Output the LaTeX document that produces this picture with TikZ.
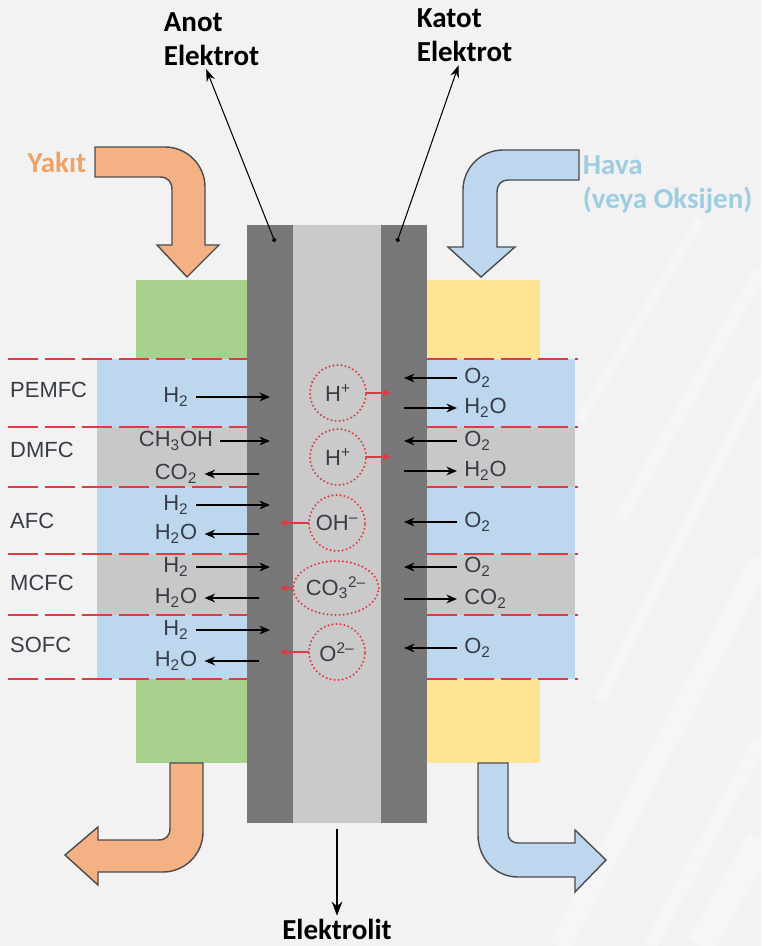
\documentclass[tikz,border=0pt]{standalone}
\usepackage{fontspec}
\setmainfont{Liberation Sans}
\newfontfamily\calfont{Carlito}
\usepackage{tikz}
\usetikzlibrary{arrows.meta,shapes.geometric}
\definecolor{bggray}{RGB}{242,242,242}
\definecolor{fuelgreen}{RGB}{166,208,140}
\definecolor{airyellow}{RGB}{255,228,150}
\definecolor{bandblue}{RGB}{189,215,238}
\definecolor{bandgray}{RGB}{200,200,200}
\definecolor{elecdark}{RGB}{120,120,120}
\definecolor{elytegray}{RGB}{202,202,202}
\definecolor{fuelorange}{RGB}{244,177,131}
\definecolor{yakitorange}{RGB}{240,162,100}
\definecolor{havablue}{RGB}{158,205,225}
\definecolor{ionred}{RGB}{222,58,68}
\definecolor{chemtext}{RGB}{55,60,70}
\newcommand{\chemsize}{\fontsize{12.5}{15}\selectfont}
\newcommand{\labelsize}{\calfont\bfseries\fontsize{16.5}{19}\selectfont}

\begin{document}
\begin{tikzpicture}[x=0.02cm,y=-0.02cm,>=Stealth,
    chem/.style={text=chemtext,font=\chemsize,inner sep=4pt},
    rowlabel/.style={text=chemtext,font=\chemsize,anchor=west},
    toplabel/.style={font=\labelsize,inner sep=2pt},
    flow/.style={line width=0.7pt,-{Stealth[length=6pt,width=5pt]}},
    ionflow/.style={ionred,line width=1pt,-{Stealth[length=4.5pt,width=4pt]}},
    ion/.style={circle,draw=ionred,line width=1.3pt,dash pattern=on 0pt off 2.3pt,line cap=round,
        minimum size=1.12cm,inner sep=0pt,outer sep=0pt,text=chemtext,font=\chemsize},
    electrode/.style={fill=elecdark,minimum width=0.92cm,minimum height=11.96cm,inner sep=0pt},
    electrolyte/.style={fill=elytegray,minimum width=1.76cm,minimum height=11.96cm,inner sep=0pt},
    rowsep/.style={ionred,line width=1.2pt,dash pattern=on 17pt off 4pt},
    pipe/.style={draw=black!70,line width=0.8pt},
    pin/.style={line width=0.6pt,{Circle[length=2.5pt]}-{Stealth[length=7pt,width=5pt]}}]

    % background
    \fill[bggray] (0,0) rectangle (761,946);
    \useasboundingbox (0,0) rectangle (761,946);
    \foreach \xa/\ya/\xb/\yb/\w in {560/946/761/560/12,650/946/761/740/8,700/946/761/840/16,
        600/700/761/380/6,620/520/761/270/7,580/420/700/220/5}
        \draw[white,opacity=.35,line width=\w pt] (\xa,\ya) -- (\xb,\yb);

    % gas boxes
    \fill[fuelgreen] (136,280) rectangle (247,763);
    \fill[airyellow] (427,280) rectangle (540,763);

    % fuel cell types
    \foreach \ya/\yb/\c in {359/427/bandblue,427/487/bandgray,487/554/bandblue,554/615/bandgray,615/679/bandblue}{
        \fill[\c] (97,\ya) rectangle (247,\yb);
        \fill[\c] (427,\ya) rectangle (575,\yb);
    }
    \foreach \y in {359,427,487,554,615,679}{
        \draw[rowsep] (8,\y) -- (247,\y);
        \draw[rowsep] (427,\y) -- (578,\y);
    }

    % electrodes and electrolyte
    \node[electrode] (anode) at (270,524) {};
    \node[electrode] (cathode) at (404,524) {};
    \node[electrolyte] (elyte) at (337,524) {};

    \node[rowlabel] (pemfc) at (4,390) {PEMFC};
    \node[rowlabel] (dmfc) at (4,450) {DMFC};
    \node[rowlabel] (afc) at (4,521) {AFC};
    \node[rowlabel] (mcfc) at (4,583) {MCFC};
    \node[rowlabel] (sofc) at (4,645) {SOFC};

    % anode side
    \node[chem] (h2p) at (176,397) {H\textsubscript{2}};
    \node[chem] (ch3oh) at (176,441) {CH\textsubscript{3}OH};
    \node[chem] (co2d) at (176,474) {CO\textsubscript{2}};
    \node[chem] (h2a) at (176,505) {H\textsubscript{2}};
    \node[chem] (h2oa) at (176,534) {H\textsubscript{2}O};
    \node[chem] (h2m) at (176,567) {H\textsubscript{2}};
    \node[chem] (h2om) at (176,598) {H\textsubscript{2}O};
    \node[chem] (h2s) at (176,630) {H\textsubscript{2}};
    \node[chem] (h2os) at (176,661) {H\textsubscript{2}O};
    \foreach \n in {h2p,ch3oh,h2a,h2m,h2s}
        \draw[flow] (\n.east) -- (\n.east -| anode);
    \foreach \n in {co2d,h2oa,h2om,h2os}
        \draw[flow,shorten <=6pt] (\n.east -| anode) -- (\n.east);

    % cathode side
    \node[chem,anchor=west] (o2p) at (457,378) {O\textsubscript{2}};
    \node[chem,anchor=west] (h2op) at (457,408) {H\textsubscript{2}O};
    \node[chem,anchor=west] (o2d) at (457,441) {O\textsubscript{2}};
    \node[chem,anchor=west] (h2od) at (457,471) {H\textsubscript{2}O};
    \node[chem,anchor=west] (o2a) at (457,522) {O\textsubscript{2}};
    \node[chem,anchor=west] (o2m) at (457,567) {O\textsubscript{2}};
    \node[chem,anchor=west] (co2m) at (457,599) {CO\textsubscript{2}};
    \node[chem,anchor=west] (o2s) at (457,648) {O\textsubscript{2}};
    \foreach \n in {o2p,o2d,o2a,o2m,o2s}
        \draw[flow] (\n.west) -- (\n.west -| cathode);
    \foreach \n in {h2op,h2od,co2m}
        \draw[flow] (\n.west -| cathode) -- (\n.west);

    % ions
    \node[ion] (ion1) at (338,393) {H\textsuperscript{+}};
    \node[ion] (ion2) at (338,457) {H\textsuperscript{+}};
    \node[ion] (ion3) at (337,523) {OH\textsuperscript{–}};
    \node[ion,ellipse,minimum width=1.68cm,minimum height=1.08cm] (ion4) at (336,588) {CO\textsubscript{3}\textsuperscript{2–}};
    \node[ion] (ion5) at (337,652) {O\textsuperscript{2–}};
    \draw[ionflow,shorten >=7.5pt] (ion1.east) -- (ion1.east -| cathode);
    \draw[ionflow,shorten >=7.5pt] (ion2.east) -- (ion2.east -| cathode);
    \foreach \n in {ion3,ion4,ion5}
        \draw[ionflow,shorten >=5.5pt] (\n.west) -- (\n.west -| anode);

    % fuel in / out
    \filldraw[pipe,fill=fuelorange] (95,147) -- (165,147) .. controls (187,147) and (205,165) .. (205,187)
        -- (205,245) -- (219,245) -- (187,277) -- (157,245) -- (172,245) -- (172,190)
        .. controls (172,182) and (168,177) .. (160,177) -- (95,177) -- cycle;
    \filldraw[pipe,fill=fuelorange] (170,763) -- (170,828) .. controls (170,836) and (166,840) .. (158,840)
        -- (98,840) -- (98,827) -- (65,855) -- (98,885) -- (98,872) -- (163,872)
        .. controls (185,872) and (203,854) .. (203,832) -- (203,763) -- cycle;
    \node[toplabel,text=yakitorange,anchor=east] (yakit) at (90,162) {Yakıt};

    % air in / out
    \filldraw[pipe,fill=bandblue] (579,150) -- (503,150) .. controls (481,150) and (463,168) .. (463,190)
        -- (463,247) -- (448,247) -- (481,277) -- (515,247) -- (497,247) -- (497,192)
        .. controls (497,185) and (501,180) .. (508,180) -- (579,180) -- cycle;
    \filldraw[pipe,fill=bandblue] (478,763) -- (478,835) .. controls (478,858) and (495,877) .. (518,877)
        -- (575,877) -- (575,892) -- (606,860) -- (575,830) -- (575,843) -- (518,843)
        .. controls (512,843) and (508,839) .. (508,833) -- (508,763) -- cycle;
    \node[toplabel,text=havablue,anchor=north west,align=left] (hava) at (579,152) {Hava\\(veya Oksijen)};

    % labels
    \node[toplabel,anchor=north west,align=left] (anot) at (160,9) {Anot\\Elektrot};
    \node[toplabel,anchor=north west,align=left] (katot) at (413,5) {Katot\\Elektrot};
    \coordinate (apin) at (275,242);
    \coordinate (kpin) at (397,242);
    \draw[pin] (apin) -- (anot.-100);
    \draw[pin] (kpin) -- (katot.-101);
    \node[toplabel,anchor=south] (elektrolit) at (337,944) {Elektrolit};
    \draw[line width=1.2pt,-{Stealth[length=8pt,width=6pt]},shorten <=3pt] (elyte.south) -- (elektrolit.north);
\end{tikzpicture}
\end{document}
